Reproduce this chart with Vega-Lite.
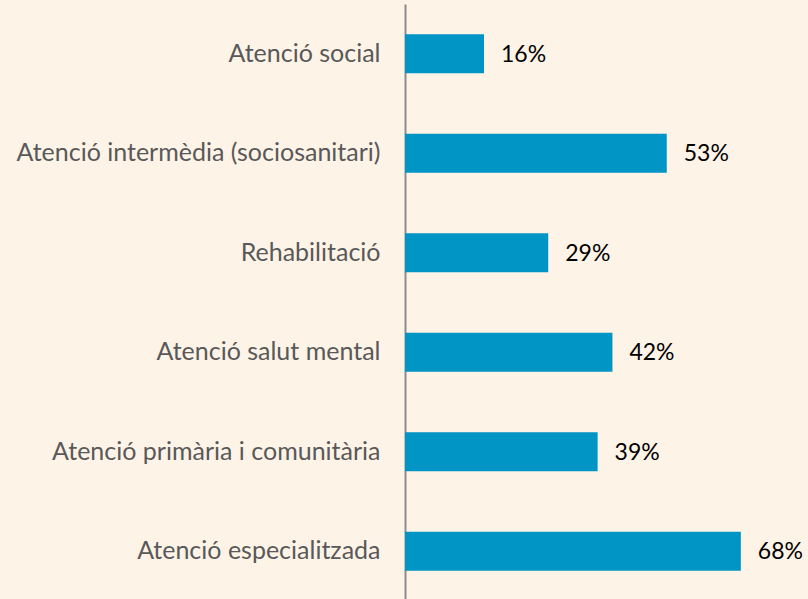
{
  "$schema": "https://vega.github.io/schema/vega-lite/v6.json",
  "width": 403,
  "height": 597,
  "autosize": {"type": "none"},
  "padding": {"left": 405, "top": 4, "right": 0, "bottom": 0},
  "background": "#FEF3E7",
  "config": {"view": {"stroke": null}},
  "data": {"values": [
    {"cat": "Atenció social", "v": 0.16},
    {"cat": "Atenció intermèdia (sociosanitari)", "v": 0.53},
    {"cat": "Rehabilitació", "v": 0.29},
    {"cat": "Atenció salut mental", "v": 0.42},
    {"cat": "Atenció primària i comunitària", "v": 0.39},
    {"cat": "Atenció especialitzada", "v": 0.68}
  ]},
  "encoding": {
    "y": {"field": "cat", "type": "nominal", "sort": null,
      "scale": {"paddingInner": 0.61, "paddingOuter": 0.305},
      "axis": {"title": null, "ticks": false, "domainColor": "#8C8C8C", "domainWidth": 2,
        "labelFont": "Lato", "labelFontSize": 25, "labelColor": "#595959", "labelPadding": 25, "labelLimit": 500}},
    "x": {"field": "v", "type": "quantitative", "scale": {"domain": [0, 0.816], "nice": false}, "axis": null}
  },
  "layer": [
    {"mark": {"type": "bar", "color": "#0095C4"}},
    {"mark": {"type": "text", "align": "left", "dx": 17, "dy": 1, "font": "Lato", "fontSize": 23, "color": "#000000"},
     "encoding": {"text": {"field": "v", "type": "quantitative", "format": ".0%"}}}
  ]
}
